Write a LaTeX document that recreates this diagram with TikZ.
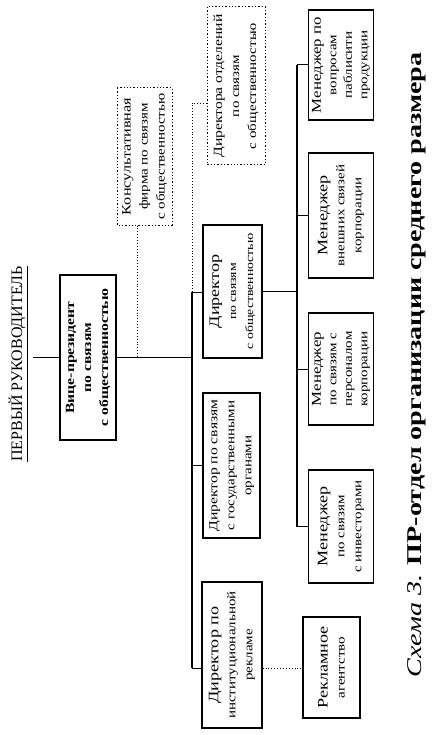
\documentclass[tikz,border=0pt]{standalone}
\usepackage{fontspec}
\usepackage{graphicx}
\setmainfont[FakeStretch=1.25]{Liberation Serif}
\newfontfamily\plainserif{Liberation Serif}
\newcommand\fsz[2]{\fontsize{#1}{#2}\selectfont}
\begin{document}
\begin{tikzpicture}[x=1pt,y=1pt,
  box/.style={draw, line width=1.3pt, rotate=90, inner sep=1pt, align=center, font=\fsz{12}{17}},
  dbox/.style={box, dotted, line width=1pt},
  conn/.style={line width=1pt},
  spine/.style={line width=1.8pt},
  dline/.style={dotted, line width=0.9pt}]
\useasboundingbox (0,0) rectangle (432,-735);

% title
\node[rotate=90, font=\plainserif\fsz{16}{18}, inner sep=2pt] (title) at (18,-364) {\underline{ПЕРВЫЙ РУКОВОДИТЕЛЬ}};

% boxes
\node[box, line width=2pt, minimum width=165pt, minimum height=56pt, font=\bfseries\fsz{12.5}{17}] (vp) at (88,-357.5) {Вице-президент\\по связям\\с общественностью};
\node[dbox, minimum width=137pt, minimum height=55pt] (consult) at (144.5,-156.5) {{\fsz{13}{17}Консультативная}\\фирма по связям\\с общественностью};
\node[dbox, minimum width=158pt, minimum height=58pt] (dirdep) at (236,-86) {{\fsz{12.5}{17}Директора отделений}\\по связям\\с общественностью};
\node[box, minimum width=133pt, minimum height=59pt, font=\fsz{11}{17}] (dirpr) at (232.5,-291.5) {{\fsz{14.5}{17}Директор}\\по связям\\с общественностью};
\node[box, minimum width=145pt, minimum height=57pt] (state) at (231.5,-465.5) {{\fsz{12.5}{17}Директор по связям}\\с государственными\\органами};
\node[box, minimum width=146pt, minimum height=60pt] (inst) at (232,-655) {{\fsz{14.5}{17}Директор по}\\институциональной\\рекламе};
\node[box, minimum width=101pt, minimum height=57pt] (adag) at (331.5,-667.5) {{\fsz{14.5}{18}Рекламное}\\агентство};
\node[box, minimum width=110pt, minimum height=65pt, font=\fsz{12}{15.5}] (pub) at (341,-65) {{\fsz{13.5}{15.5}Менеджер по}\\вопросам\\паблисити\\продукции};
\node[box, minimum width=125pt, minimum height=65pt] (ext) at (341,-215.5) {{\fsz{14.5}{17}Менеджер}\\внешних связей\\корпорации};
\node[box, minimum width=112pt, minimum height=65pt, font=\fsz{12}{15.5}] (pers) at (341,-369) {{\fsz{13.5}{15.5}Менеджер}\\по связям с\\персоналом\\корпорации};
\node[box, minimum width=113pt, minimum height=65pt] (inv) at (341,-526.5) {{\fsz{14.5}{17}Менеджер}\\по связям\\с инвесторами};

% spine coordinates
\coordinate (sp1) at (192,-292);
\coordinate (spT) at (192,-103);
\coordinate (sp2) at (192,-668);
\coordinate (ms1) at (297,-65);

% connectors
\draw[conn] ([xshift=3pt]title.south |- vp.north) -- (vp.north);
\draw[conn] (vp.south) -- (vp.south -| sp1);
\draw[dline] ([xshift=-7pt]consult.west) -- ([xshift=-7pt]consult.west |- vp.south);
\draw[spine] (sp1) -- (sp2);
\draw[dline] (sp1) -- (spT) -- (spT -| dirdep.north);
\draw[conn] (sp1) -- (sp1 -| dirpr.north);
\draw[conn] (state.north -| sp1) -- (state.north);
\draw[conn] (sp2) -- (sp2 -| inst.north);
\draw[dline] (sp2 -| inst.south) -- (sp2 -| adag.north);
\draw[conn] (dirpr.south) -- (dirpr.south -| ms1);
\draw[spine] (pub.north -| ms1) -- (inv.north -| ms1);
\foreach \n in {pub,ext,pers,inv} \draw[conn] (\n.north -| ms1) -- (\n.north);

% caption
\node[rotate=90, font=\fsz{21}{23}, inner sep=1pt] (cap) at (417,-365) {\scalebox{1.07}[1]{\textit{Схема 3.} \textbf{ПР-отдел организации среднего размера}}};
\end{tikzpicture}
\end{document}
